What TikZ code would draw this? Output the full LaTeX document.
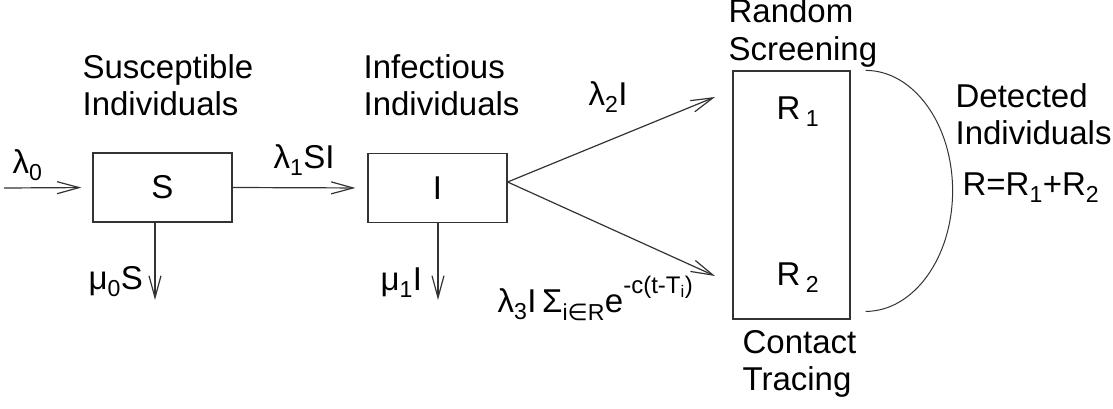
\documentclass[tikz,border=0pt]{standalone}
\usepackage{fontspec}
\setmainfont{Liberation Sans}
\newfontfamily\symfont{DejaVu Sans}
\usetikzlibrary{arrows.meta}
\newcommand{\sub}[1]{\textsubscript{#1}}

\begin{document}
\begin{tikzpicture}[
  x=1pt,
  y=1pt,
  line width=1.2pt,
  font=\fontsize{33}{37}\selectfont,
  flow/.style={draw=black!80,-{Straight Barb[length=22pt,width=12pt]}},
  compartment/.style={draw=black!80,rectangle,inner sep=0pt,minimum width=139pt,minimum height=69pt},
  caption/.style={align=left,inner sep=0pt,anchor=base west},
  rate/.style={inner sep=0pt,anchor=base west}
]
  \useasboundingbox (0,0) rectangle (1113,408);

  % Compartments.
  \node[compartment] (S) at (162.5,220.5) {S};
  \node[compartment] (I) at (437.5,220) {I};
  \node[compartment,minimum width=117pt,minimum height=248pt] (R) at (791.5,213) {};
  \node[rate] (R1) at (776,289) {R\,\sub{1}};
  \node[rate] (R2) at (776,123) {R\,\sub{2}};

  % Free ends of the flows.
  \coordinate (lin) at (4,220);
  \coordinate (sout) at (155,108);
  \coordinate (iout) at (438,108);
  \coordinate (r1in) at (715,311);
  \coordinate (r2in) at (715,132);

  % Flows between compartments.
  \draw[flow,shorten >=11pt] (lin) -- (S.west);
  \draw[flow,shorten >=12pt] (S.east) -- (I.west);
  \draw[flow] (sout |- S.south) -- (sout);
  \draw[flow] (iout |- I.south) -- (iout);
  \draw[flow] ([yshift=6pt]I.east) -- (r1in);
  \draw[flow] ([yshift=6pt]I.east) -- (r2in);

  % Detected individuals bracket.
  \draw[draw=black!80,line width=1pt] ([xshift=15pt]R.north east)
    arc[start angle=90,end angle=-90,x radius=87,y radius=120.5];

  % Rates.
  \node[rate] (lam0) at (12,235) {λ\sub{0}};
  \node[rate] (lam1) at (273,240) {λ\sub{1}SI};
  \node[rate] (mu0) at (88,119) {μ\sub{0}S};
  \node[rate] (mu1) at (380,118) {μ\sub{1}I};
  \node[rate] (lam2) at (588,303) {λ\sub{2}I};
  \node[rate] (lam3) at (497,96) {λ\sub{3}I\,Σ\sub{i{\symfont ∈}R}e\raisebox{0.55em}{\fontsize{24}{24}\selectfont -c(t-T\sub{i})}};

  % Captions.
  \node[caption] (scap) at (82,293) {Susceptible\\Individuals};
  \node[caption] (icap) at (363,293) {Infectious\\Individuals};
  \node[caption] (rcap) at (728,348) {Random\\Screening};
  \node[caption] (ccap) at (742,18) {Contact\\Tracing};
  \node[caption] (dcap) at (955,264) {Detected\\Individuals};
  \node[rate] (rsum) at (962,213) {R=R\sub{1}+R\sub{2}};
\end{tikzpicture}
\end{document}
